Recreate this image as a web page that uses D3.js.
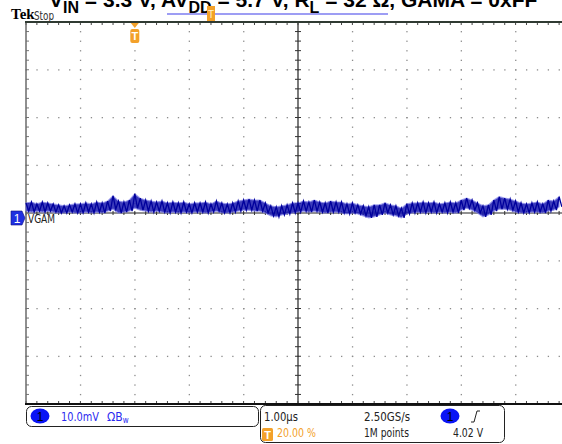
<!DOCTYPE html>
<html><head><meta charset="utf-8">
<script src="https://cdn.jsdelivr.net/npm/d3@7"></script>
<style>body{margin:0;background:#fff;overflow:hidden}svg{display:block}</style>
</head><body>
<svg id="c" width="562" height="444"></svg>
<script>
// ---- data ----
const sampleIntervalUs = 0.1;            // spacing of the min/max peak-detect pairs
const timeRangeUs = [0, 10];             // 10 divisions x 1.00 µs
const voltRangeMv = [-40, 40];           // 8 divisions x 10.0 mV
const traceMaxMv = [2.1,2.3,1.9,2.3,2.1,1.9,1.7,1.5,1.7,1.9,
  1.9,2.1,1.9,2.3,2.1,2.5,3.6,2.5,2.3,2.7,
  4.0,3.1,2.7,2.5,2.3,2.5,2.1,2.3,2.1,2.3,
  1.9,2.1,2.1,2.3,1.9,2.5,2.1,1.9,2.1,2.5,
  2.7,2.9,2.7,2.7,2.1,1.5,1.3,1.5,1.7,2.1,
  2.1,2.5,2.3,2.7,2.3,2.1,2.5,2.3,2.3,1.9,
  2.1,1.7,1.5,1.3,1.7,1.7,2.1,1.7,1.5,1.0,
  1.9,2.1,2.1,2.3,2.1,2.3,1.9,2.1,2.3,2.1,
  2.7,3.1,2.7,2.1,1.5,1.7,2.7,3.4,3.1,2.9,
  2.5,2.1,1.9,2.1,2.3,1.9,2.7,2.5,3.4];
const traceMinMv = [0.4,0.2,0.4,0.2,0.4,0.2,0.0,0.0,0.2,0.0,
  0.0,0.2,0.0,0.2,0.0,0.4,0.8,0.0,0.2,0.4,
  1.0,0.6,0.4,0.2,0.4,0.2,0.0,0.2,0.0,0.2,
  0.0,0.2,0.2,0.0,0.2,0.4,0.0,0.0,0.2,0.4,
  0.6,0.6,0.4,0.4,0.0,-0.6,-0.8,-0.4,-0.2,0.0,
  0.2,0.4,0.2,0.4,0.2,0.0,0.2,0.2,0.0,-0.2,
  0.0,-0.2,-0.6,-1.0,-0.8,-0.4,0.0,-0.4,-0.6,-1.0,
  -0.2,0.0,0.2,0.0,0.2,0.0,0.2,0.0,0.2,0.0,
  0.6,1.0,0.6,0.0,-0.8,-0.4,0.4,0.8,0.8,0.6,
  0.2,0.0,0.0,0.2,0.2,0.0,0.4,0.6,1.3];
const triggerTimeUs = 2;                 // 20.00 % position
const titleParts = [["V",""],["IN","sub"],[" = 3.3 V, AV",""],["DD","sub"],[" = 5.7 V, R",""],["L","sub"],[" = 32 Ω, GAMA = 0xFF",""]];
const channelLabel = "VGAM";
const statusRow1 = ["1.00µs","2.50GS/s","4.02 V"];
const statusRow2 = ["20.00 %","1M points"];
const channelScale = "10.0mV";

// ---- layout ----
const svg = d3.select("#c");
const L = 26, T = 22, W = 544, H = 382;
const x = d3.scaleLinear().domain(timeRangeUs).range([L, L + W]);
const y = d3.scaleLinear().domain(voltRangeMv).range([T + H, T]);
const majX = d3.range(timeRangeUs[0], timeRangeUs[1] + 0.001, 1);
const majY = d3.range(voltRangeMv[0], voltRangeMv[1] + 0.001, 10);
const minX = d3.range(timeRangeUs[0], timeRangeUs[1] + 0.001, 0.2);
const minY = d3.range(voltRangeMv[0], voltRangeMv[1] + 0.001, 2);
const cx = x(5), cy = y(0);
const orange = "#f3a12a";
const narrow = "Liberation Sans Narrow, DejaVu Sans Condensed, sans-serif";

// title (clipped at the top)
const title = svg.append("text").attr("x", 49).attr("y", 7)
  .attr("font-family", "Liberation Sans, Arial, sans-serif").attr("font-weight", "bold")
  .attr("font-size", 21).attr("fill", "#000");
let prevSub = false;
titleParts.forEach(([s, k]) => {
  const ts = title.append("tspan").text(s);
  if (k === "sub") { ts.attr("font-size", 16).attr("dy", 6); prevSub = true; }
  else { if (prevSub) ts.attr("dy", -6); prevSub = false; }
});

// Tek Stop
svg.append("text").attr("x", 11).attr("y", 19).text("Tek")
  .attr("font-family", "Liberation Serif, serif").attr("font-weight", "bold").attr("font-size", 15);
svg.append("text").attr("x", 34).attr("y", 20).text("Stop")
  .attr("font-family", narrow).attr("font-size", 13).attr("fill", "#333")
  .attr("textLength", 20).attr("lengthAdjust", "spacingAndGlyphs");

// record view bar
svg.append("line").attr("x1", 167).attr("x2", 388).attr("y1", 14).attr("y2", 14)
  .attr("stroke", "#7c7cf0").attr("stroke-width", 1.3);
svg.append("rect").attr("x", 207).attr("y", 6).attr("width", 8).attr("height", 15).attr("fill", orange);
svg.append("text").attr("x", 211).attr("y", 18).attr("text-anchor", "middle").text("T")
  .attr("font-family", "Liberation Sans, sans-serif").attr("font-size", 10).attr("fill", "#fff3c8");

// grid dots
const g = svg.append("g");
majX.filter(v => v !== 5 && v !== 0).forEach(v => {
  minY.forEach(w => g.append("rect").attr("x", x(v) - 0.5).attr("y", y(w) - 0.5).attr("width", 1.3).attr("height", 1.3).attr("fill", "#8c8c8c"));
});
majY.filter(v => v !== 0 && Math.abs(v) !== 40).forEach(w => {
  minX.forEach(v => g.append("rect").attr("x", x(v) - 0.5).attr("y", y(w) - 0.5).attr("width", 1.3).attr("height", 1.3).attr("fill", "#8c8c8c"));
});
// center axes
g.append("line").attr("x1", cx).attr("x2", cx).attr("y1", T).attr("y2", T + H).attr("stroke", "#222").attr("stroke-width", 1.2);
g.append("line").attr("x1", L).attr("x2", L + W).attr("y1", cy).attr("y2", cy).attr("stroke", "#222").attr("stroke-width", 1.2);
minY.forEach(w => g.append("line").attr("x1", cx - 3).attr("x2", cx + 3).attr("y1", y(w)).attr("y2", y(w)).attr("stroke", "#333"));
minX.forEach(v => g.append("line").attr("x1", x(v)).attr("x2", x(v)).attr("y1", cy - 2).attr("y2", cy + 2).attr("stroke", "#333"));
// edge ticks
minX.forEach(v => {
  g.append("line").attr("x1", x(v)).attr("x2", x(v)).attr("y1", T).attr("y2", T + 3).attr("stroke", "#444");
  g.append("line").attr("x1", x(v)).attr("x2", x(v)).attr("y1", T + H - 3).attr("y2", T + H).attr("stroke", "#444");
});
minY.forEach(w => g.append("line").attr("x1", L).attr("x2", L + 3).attr("y1", y(w)).attr("y2", y(w)).attr("stroke", "#777"));
// frame
g.append("line").attr("x1", L).attr("x2", L).attr("y1", T).attr("y2", T + H).attr("stroke", "#6a6a6a").attr("stroke-width", 1.5);
g.append("line").attr("x1", L - 1).attr("x2", L + W).attr("y1", T).attr("y2", T).attr("stroke", "#2f3a32").attr("stroke-width", 2);
g.append("line").attr("x1", L - 1).attr("x2", L + W).attr("y1", T + H).attr("y2", T + H).attr("stroke", "#111").attr("stroke-width", 2);

// trace (min/max pairs) : envelope band + zigzag
const band = d3.area()
  .x((d, i) => x(i * sampleIntervalUs))
  .y0((d, i) => y(traceMinMv[i]))
  .y1(d => y(d));
svg.append("path").attr("d", band(traceMaxMv)).attr("fill", "#1a1ab0").attr("opacity", 0.85)
  .attr("stroke", "#8080e8").attr("stroke-width", 1.2).attr("stroke-opacity", 0.8);
const pts = [];
traceMaxMv.forEach((v, i) => {
  const t = i * sampleIntervalUs;
  pts.push([t, v]);
  pts.push([t + sampleIntervalUs / 2, traceMinMv[i]]);
});
const line = d3.line().x(d => x(d[0])).y(d => y(d[1]));
svg.append("path").attr("d", line(pts)).attr("fill", "none").attr("stroke", "#00009c").attr("stroke-width", 1.3);

// trigger marker
const tx = x(triggerTimeUs);
svg.append("path").attr("d", `M${tx - 4},${T + 1}L${tx + 4},${T + 1}L${tx},${T + 6}Z`).attr("fill", orange);
svg.append("rect").attr("x", tx - 4.5).attr("y", T + 7).attr("width", 9).attr("height", 14).attr("rx", 2).attr("fill", orange);
svg.append("text").attr("x", tx).attr("y", T + 18).attr("text-anchor", "middle").text("T")
  .attr("font-family", "Liberation Sans, sans-serif").attr("font-weight", "bold").attr("font-size", 11).attr("fill", "#fff");

// channel marker
svg.append("path").attr("d", `M11,${cy - 2}h11l3,7l-3,7h-11z`).attr("fill", "#2030e0").attr("stroke", "#101080").attr("stroke-width", 0.6);
svg.append("text").attr("x", 17).attr("y", cy + 10).attr("text-anchor", "middle").text("1")
  .attr("font-family", "Liberation Sans, sans-serif").attr("font-size", 12).attr("fill", "#fff");
svg.append("text").attr("x", 28).attr("y", cy + 10).text(channelLabel)
  .attr("font-family", narrow).attr("font-size", 13).attr("fill", "#222")
  .attr("textLength", 27).attr("lengthAdjust", "spacingAndGlyphs");

// status boxes
svg.append("rect").attr("x", 26.5).attr("y", 406.5).attr("width", 232).attr("height", 20).attr("rx", 5)
  .attr("fill", "#fff").attr("stroke", "#222").attr("stroke-width", 1);
svg.append("rect").attr("x", 260.5).attr("y", 405.5).attr("width", 244).attr("height", 37).attr("rx", 5)
  .attr("fill", "#fff").attr("stroke", "#222").attr("stroke-width", 1);
[[40, 416], [450, 416]].forEach(([ex, ey]) => {
  svg.append("ellipse").attr("cx", ex).attr("cy", ey).attr("rx", 9.5).attr("ry", 7.5).attr("fill", "#0a14f5");
  svg.append("text").attr("x", ex).attr("y", ey + 4.5).attr("text-anchor", "middle").text("1")
    .attr("font-family", "Liberation Sans, sans-serif").attr("font-size", 12).attr("fill", "#000");
});
function status(txt, px, py, len, fill) {
  svg.append("text").attr("x", px).attr("y", py).text(txt)
    .attr("font-family", narrow).attr("font-size", 13).attr("fill", fill)
    .attr("textLength", len).attr("lengthAdjust", "spacingAndGlyphs");
}
status(channelScale, 61, 421, 38, "#2a2af0");
const bw = svg.append("text").attr("x", 107).attr("y", 421).attr("font-family", narrow).attr("font-size", 12).attr("fill", "#2a2af0");
bw.append("tspan").text("Ω");
bw.append("tspan").text("B").attr("dx", 0);
bw.append("tspan").text("w").attr("font-size", 8).attr("dy", 2);

status(statusRow1[0], 264, 421, 34, "#222");
status(statusRow1[1], 364, 421, 46, "#222");
status(statusRow1[2], 453, 437, 30, "#222");
svg.append("path").attr("d", "M471,422 L474,422 L477,411 L480,411").attr("fill", "none").attr("stroke", "#222").attr("stroke-width", 1);
svg.append("rect").attr("x", 262).attr("y", 428).attr("width", 11).attr("height", 13).attr("rx", 1.5).attr("fill", orange);
svg.append("text").attr("x", 267.5).attr("y", 439).attr("text-anchor", "middle").text("T")
  .attr("font-family", "Liberation Sans, sans-serif").attr("font-weight", "bold").attr("font-size", 11).attr("fill", "#fff");
status(statusRow2[0], 277, 437, 39, orange);
status(statusRow2[1], 364, 437, 45, "#222");
</script>
</body></html>
